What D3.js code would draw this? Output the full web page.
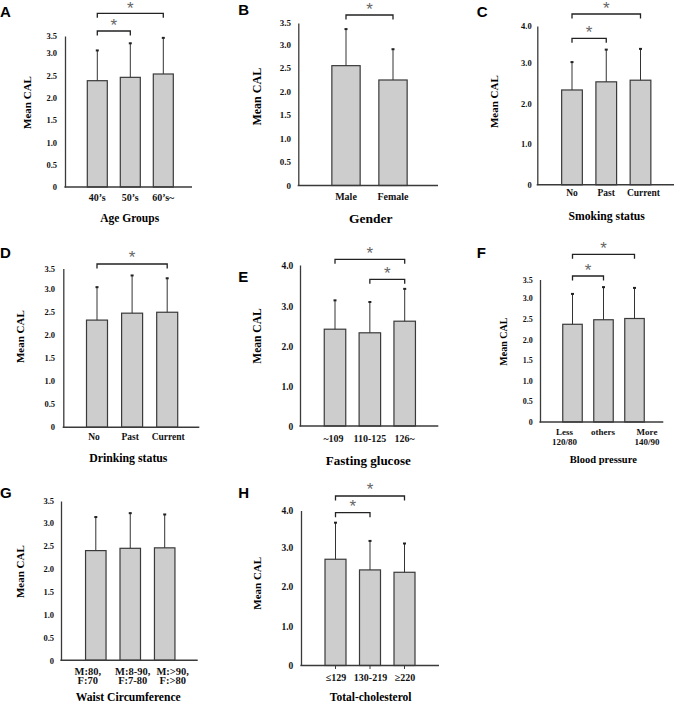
<!DOCTYPE html>
<html><head><meta charset="utf-8">
<script src="https://cdn.jsdelivr.net/npm/d3@7"></script>
<style>body{margin:0;background:#fff} svg{display:block}</style>
</head><body><svg id="c" width="674" height="704"></svg>
<script>
// ---------- DATA ----------
const yTitle = "Mean CAL";

const catsA = ["40’s", "50’s", "60’s~"];
const meanA = [2.38, 2.455, 2.53];
const upperA = [3.09, 3.30, 3.46];
const ticksA = ["0","0.5","1.0","1.5","2.0","2.5","3.0","3.5"];
const sigA = [[0,1],[0,2]];
const xTitleA = "Age Groups";

const catsB = ["Male", "Female"];
const meanB = [2.55, 2.245];
const upperB = [3.37, 2.91];
const ticksB = ["0","0.5","1.0","1.5","2.0","2.5","3.0","3.5"];
const sigB = [[0,1]];
const xTitleB = "Gender";

const catsC = ["No", "Past", "Current"];
const meanC = [2.33, 2.53, 2.57];
const upperC = [3.03, 3.37, 3.39];
const ticksC = ["0","1.0","2.0","3.0","4.0"];
const sigC = [[0,1],[0,2]];
const xTitleC = "Smoking status";

const catsD = ["No", "Past", "Current"];
const meanD = [2.32, 2.47, 2.49];
const upperD = [3.05, 3.34, 3.27];
const ticksD = ["0","0.5","1.0","1.5","2.0","2.5","3.0","3.5"];
const sigD = [[0,2]];
const xTitleD = "Drinking status";

const catsE = ["~109", "110-125", "126~"];
const meanE = [2.42, 2.33, 2.62];
const upperE = [3.15, 3.11, 3.43];
const ticksE = ["0","1.0","2.0","3.0","4.0"];
const sigE = [[0,2],[1,2]];
const xTitleE = "Fasting glucose";

const catsF = ["Less\n120/80", "others", "More\n140/90"];
const meanF = [2.37, 2.48, 2.51];
const upperF = [3.13, 3.31, 3.29];
const ticksF = ["0","0.5","1.0","1.5","2.0","2.5","3.0","3.5"];
const sigF = [[0,1],[0,2]];
const xTitleF = "Blood pressure";

const catsG = ["M:80,\nF:70", "M:8-90,\nF:7-80", "M:>90,\nF:>80"];
const meanG = [2.39, 2.44, 2.45];
const upperG = [3.14, 3.23, 3.20];
const ticksG = ["0","0.5","1.0","1.5","2.0","2.5","3.0","3.5"];
const sigG = [];
const xTitleG = "Waist Circumference";

const catsH = ["≤129", "130-219", "≥220"];
const meanH = [2.69, 2.42, 2.36];
const upperH = [3.68, 3.18, 3.11];
const ticksH = ["0","1.0","2.0","3.0","4.0"];
const sigH = [[0,1],[0,2]];
const xTitleH = "Total-cholesterol";

// ---------- LAYOUT (positions / sizes only) ----------
const panels = [
  {letter:"A", cats:catsA, mean:meanA, upper:upperA, ticks:ticksA, sig:sigA, xTitle:xTitleA,
   lx:0, ly:17.3, ax:65, y0:187, y2:53, yTop:36, xEnd:192, c0:97.3, c1:163.3, bw:20,
   tickPad:8, tickFs:8.5, catY:197, catFs:10, catDx:[0,0,0], lineH:9.7,
   tX:129.7, tY:218, tFs:11.5, yTX:26.7, yTY:102.5, yTFs:11, brY:[31,13.3], astOff:9.3, xTicks:false},
  {letter:"B", cats:catsB, mean:meanB, upper:upperB, ticks:ticksB, sig:sigB, xTitle:xTitleB,
   lx:238.3, ly:15, ax:298.3, y0:185.5, y2:44.5, yTop:23, xEnd:438, c0:346, c1:393, bw:28.3,
   tickPad:7.3, tickFs:9, catY:196.7, catFs:10, catDx:[0,0], lineH:9.7,
   tX:370.7, tY:218.3, tFs:13.5, yTX:257.3, yTY:96.7, yTFs:12, brY:[15], astOff:10, xTicks:false},
  {letter:"C", cats:catsC, mean:meanC, upper:upperC, ticks:ticksC, sig:sigC, xTitle:xTitleC,
   lx:476.7, ly:16.7, ax:537.3, y0:184.8, y2:62.7, yTop:26, xEnd:674, c0:572, c1:640.5, bw:20.7,
   tickPad:5.6, tickFs:8.5, catY:193.3, catFs:9.5, catDx:[0,0,3], lineH:9.7,
   tX:606.7, tY:216.7, tFs:11.7, yTX:494.3, yTY:101.7, yTFs:11, brY:[38.3,14], astOff:10, xTicks:false},
  {letter:"D", cats:catsD, mean:meanD, upper:upperD, ticks:ticksD, sig:sigD, xTitle:xTitleD,
   lx:0, ly:258.3, ax:63.3, y0:427.2, y2:288.7, yTop:268.5, xEnd:199.3, c0:97, c1:167.2, bw:21,
   tickPad:8.3, tickFs:8.5, catY:436.7, catFs:9.5, catDx:[-3,-2,1], lineH:9.7,
   tX:128.3, tY:458.3, tFs:11.8, yTX:20, yTY:336.7, yTFs:11, brY:[264], astOff:10.7, xTicks:false},
  {letter:"E", cats:catsE, mean:meanE, upper:upperE, ticks:ticksE, sig:sigE, xTitle:xTitleE,
   lx:238.3, ly:281.7, ax:300, y0:426, y2:306, yTop:265, xEnd:438.3, c0:335, c1:404.7, bw:21.5,
   tickPad:6.7, tickFs:9.5, catY:438.3, catFs:10, catDx:[-1.5,0,0], lineH:9.7,
   tX:368.3, tY:460, tFs:13, yTX:257.3, yTY:336, yTFs:11.5, brY:[259.3,279.3], astOff:10, xTicks:false},
  {letter:"F", cats:catsF, mean:meanF, upper:upperF, ticks:ticksF, sig:sigF, xTitle:xTitleF,
   lx:476.7, ly:258.3, ax:540, y0:422, y2:298.3, yTop:279.5, xEnd:663.3, c0:572.5, c1:634.5, bw:19.5,
   tickPad:7.3, tickFs:8, catY:431.7, catFs:9, catDx:[-8,-0.5,12.5], lineH:9.8,
   tX:603.3, tY:459.3, tFs:10.5, yTX:503.3, yTY:341.7, yTFs:10, brY:[276,254.3], astOff:10, xTicks:false},
  {letter:"G", cats:catsG, mean:meanG, upper:upperG, ticks:ticksG, sig:sigG, xTitle:xTitleG,
   lx:0, ly:498.3, ax:61, y0:660.3, y2:522.6, yTop:501, xEnd:197.7, c0:95.8, c1:164.7, bw:20.5,
   tickPad:7, tickFs:8.5, catY:671, catFs:10.5, catDx:[-8,2.5,8], lineH:9.7,
   tX:128.3, tY:697, tFs:11.6, yTX:20, yTY:571.7, yTFs:11, brY:[], astOff:10, xTicks:false},
  {letter:"H", cats:catsH, mean:meanH, upper:upperH, ticks:ticksH, sig:sigH, xTitle:xTitleH,
   lx:238.3, ly:498.3, ax:301, y0:665.5, y2:547, yTop:510.5, xEnd:439, c0:335.5, c1:404.5, bw:21,
   tickPad:7.7, tickFs:9.5, catY:677.3, catFs:10, catDx:[0.5,0.5,0.5], lineH:9.7,
   tX:370.7, tY:697, tFs:11.5, yTX:257.3, yTY:583.3, yTFs:11, brY:[512.7,496], astOff:10.8, xTicks:true}
];

// ---------- DRAW ----------
const svg = d3.select("#c");
const serif = "'Liberation Serif','Times New Roman',serif";
const sans = "'Liberation Sans',Arial,sans-serif";
const barFill = "#cdcdcd", dark = "#3a3a3a";
const astFs = 17;

panels.forEach(p => {
  const g = svg.append("g");
  const tv = p.ticks.map(Number);
  const n = tv.length;
  const y = d3.scaleLinear().domain([0, tv[n-2], tv[n-1]]).range([p.y0, p.y2, p.yTop]);
  const x = d3.scalePoint().domain(p.cats).range([p.c0, p.c1]);

  // panel letter
  g.append("text").attr("x", p.lx).attr("y", p.ly)
    .attr("font-family", sans).attr("font-weight", "bold").attr("font-size", 15)
    .attr("fill", "#000").text(p.letter);

  // bars
  g.selectAll("rect.bar").data(p.cats).join("rect")
    .attr("x", d => x(d) - p.bw/2).attr("width", p.bw)
    .attr("y", (d,i) => y(p.mean[i])).attr("height", (d,i) => y(0) - y(p.mean[i]))
    .attr("fill", barFill).attr("stroke", dark).attr("stroke-width", 1.2);

  // error bars
  g.selectAll("line.err").data(p.cats).join("line")
    .attr("x1", d => x(d)).attr("x2", d => x(d))
    .attr("y1", (d,i) => y(p.mean[i])).attr("y2", (d,i) => y(p.upper[i]))
    .attr("stroke", "#333").attr("stroke-width", 1);
  g.selectAll("line.cap").data(p.cats).join("line")
    .attr("x1", d => x(d) - 1.5).attr("x2", d => x(d) + 1.5)
    .attr("y1", (d,i) => y(p.upper[i]) + 0.5).attr("y2", (d,i) => y(p.upper[i]) + 0.5)
    .attr("stroke", "#222").attr("stroke-width", 2);

  // y axis
  const yAxis = d3.axisLeft(y).tickValues(tv).tickSize(0).tickSizeOuter(0)
    .tickPadding(p.tickPad).tickFormat((d,i) => p.ticks[i]);
  const ya = g.append("g").attr("transform", `translate(${p.ax},0)`).call(yAxis);
  ya.select(".domain").attr("stroke", dark).attr("stroke-width", 1.3);
  ya.selectAll("text").attr("font-family", serif).attr("font-weight", "bold")
    .attr("font-size", p.tickFs).attr("fill", "#111");

  // x axis line
  g.append("line").attr("x1", p.ax - 0.6).attr("x2", p.xEnd)
    .attr("y1", y(0)).attr("y2", y(0)).attr("stroke", dark).attr("stroke-width", 1.4);
  if (p.xTicks) {
    g.selectAll("line.xt").data(p.cats).join("line")
      .attr("x1", d => x(d)).attr("x2", d => x(d))
      .attr("y1", y(0)).attr("y2", y(0) + 3.5)
      .attr("stroke", dark).attr("stroke-width", 1);
  }

  // category labels
  p.cats.forEach((c, i) => {
    const lines = c.split("\n");
    lines.forEach((ln, j) => {
      g.append("text").attr("x", x(c) + p.catDx[i]).attr("y", p.catY + j * p.lineH)
        .attr("text-anchor", "middle").attr("dominant-baseline", "central")
        .attr("font-family", serif).attr("font-weight", "bold").attr("font-size", p.catFs)
        .attr("fill", "#111").text(ln);
    });
  });

  // x title
  g.append("text").attr("x", p.tX).attr("y", p.tY)
    .attr("text-anchor", "middle").attr("dominant-baseline", "central")
    .attr("font-family", serif).attr("font-weight", "bold").attr("font-size", p.tFs)
    .attr("fill", "#000").text(p.xTitle);

  // y title
  g.append("text").attr("transform", `translate(${p.yTX},${p.yTY}) rotate(-90)`)
    .attr("text-anchor", "middle").attr("dominant-baseline", "central")
    .attr("font-family", serif).attr("font-weight", "bold").attr("font-size", p.yTFs)
    .attr("fill", "#000").text(yTitle);

  // significance brackets
  p.sig.forEach((s, k) => {
    const by = p.brY[k];
    const xa = x(p.cats[s[0]]), xb = x(p.cats[s[1]]);
    g.append("path")
      .attr("d", `M${xa},${by + 4.5}V${by}H${xb}V${by + 4.5}`)
      .attr("fill", "none").attr("stroke", "#222").attr("stroke-width", 1.3);
    g.append("text").attr("x", (xa + xb) / 2).attr("y", by - p.astOff + 0.57 * astFs)
      .attr("text-anchor", "middle").attr("font-family", sans).attr("font-size", astFs)
      .attr("fill", "#666").text("*");
  });
});
</script>
</body></html>
